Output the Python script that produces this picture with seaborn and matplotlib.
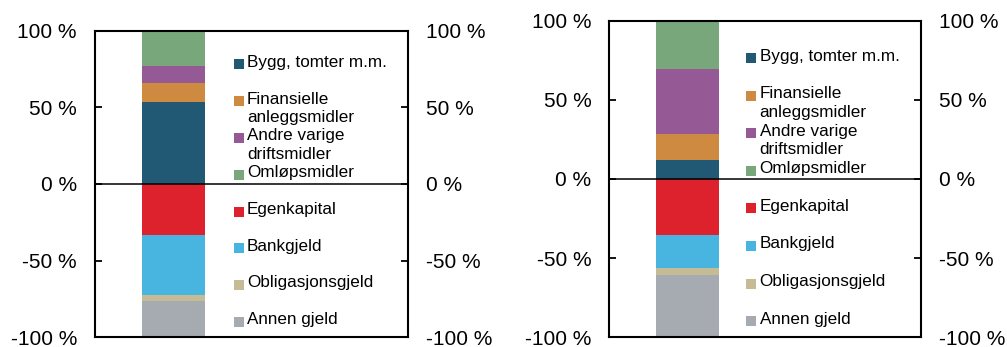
import matplotlib
matplotlib.use("Agg")
import matplotlib.pyplot as plt
import seaborn as sns
import pandas as pd
import numpy as np

# Balance structure (share of total, %)
assets = ["Bygg, tomter m.m.", "Finansielle\nanleggsmidler",
          "Andre varige\ndriftsmidler", "Omløpsmidler"]
liabilities = ["Egenkapital", "Bankgjeld", "Obligasjonsgjeld", "Annen gjeld"]

left_assets = [53.6, 12.4, 11.3, 22.7]
left_liabilities = [33.3, 39.2, 4.0, 23.5]

right_assets = [12.0, 16.5, 41.1, 30.4]
right_liabilities = [35.4, 20.7, 4.7, 39.2]

asset_colors = ["#215874", "#CD8A40", "#955A96", "#79A77C"]
liability_colors = ["#DD222E", "#48B4E0", "#C5BB94", "#A5ABB1"]

tick_values = [-100, -50, 0, 50, 100]
tick_labels = ["-100 %", "-50 %", "0 %", "50 %", "100 %"]

sns.set_style("white")
plt.rcParams["font.family"] = ["Liberation Sans", "DejaVu Sans"]

fig = plt.figure(figsize=(10.07, 3.47), dpi=100)
ax_left = fig.add_axes([0.0943, 0.0288, 0.3108, 0.8819])
ax_right = fig.add_axes([0.6051, 0.0280, 0.3095, 0.9124])


def draw_panel(ax, pos_vals, neg_vals, legend_x, legend_y0, legend_step):
    # stacked column: draw cumulative totals from the outermost segment inwards
    pos_cum = np.cumsum(pos_vals)
    neg_cum = -np.cumsum(neg_vals)
    for i in range(len(pos_vals) - 1, -1, -1):
        df = pd.DataFrame({"x": ["A"], "y": [pos_cum[i]]})
        sns.barplot(data=df, x="x", y="y", color=asset_colors[i], width=0.6,
                    saturation=1, ax=ax, zorder=2, linewidth=0)
    for i in range(len(neg_vals) - 1, -1, -1):
        df = pd.DataFrame({"x": ["A"], "y": [neg_cum[i]]})
        sns.barplot(data=df, x="x", y="y", color=liability_colors[i], width=0.6,
                    saturation=1, ax=ax, zorder=2, linewidth=0)

    ax.axhline(0, color="black", lw=1.1, zorder=3)
    ax.set_xlim(-0.747, 2.233)
    ax.set_ylim(-100, 100)
    ax.set_xlabel("")
    ax.set_ylabel("")
    ax.set_xticks([])
    ax.set_yticks(tick_values)
    ax.set_yticklabels(tick_labels)
    ax.tick_params(axis="y", direction="in", length=5, width=1.3, colors="black",
                   labelsize=15, pad=13, left=True, right=True,
                   labelleft=True, labelright=True)
    for s in ax.spines.values():
        s.set_visible(True)
        s.set_color("black")
        s.set_linewidth(1.5)

    labels = assets + liabilities
    colors = asset_colors + liability_colors
    for k, (lab, col) in enumerate(zip(labels, colors)):
        y = legend_y0 - k * legend_step
        ax.scatter([legend_x], [y], transform=ax.transAxes, marker="s", s=44,
                   color=col, linewidths=0, clip_on=False, zorder=4)
        ax.annotate(lab, xy=(legend_x + 0.0265, y), xycoords="axes fraction",
                    xytext=(0, 6.9), textcoords="offset points",
                    ha="left", va="top", fontsize=12.3, color="black",
                    linespacing=1.3)
    ax.set_xlim(-0.747, 2.233)
    ax.set_ylim(-100, 100)


draw_panel(ax_left, left_assets, left_liabilities, 0.459, 0.8905, 0.1201)
draw_panel(ax_right, right_assets, right_liabilities, 0.4556, 0.8812, 0.1186)

fig.savefig("out.png", dpi=100)
